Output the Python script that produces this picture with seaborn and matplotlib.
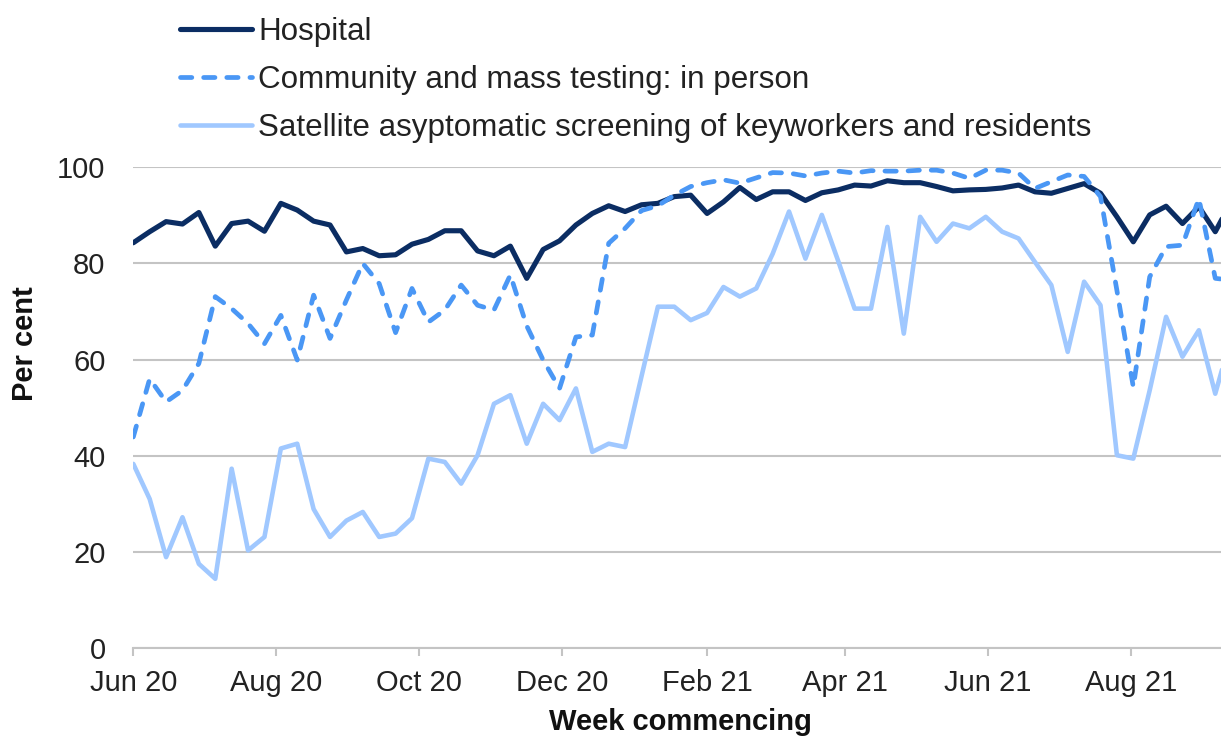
import pandas as pd
import numpy as np
import matplotlib.pyplot as plt
import matplotlib.dates as mdates
import seaborn as sns

# weekly data, week commencing 1 Jun 2020
weeks = pd.date_range('2020-06-01', periods=68, freq='7D')

hospital = [84.3, 86.6, 88.7, 88.2, 90.6, 83.6, 88.3, 88.8, 86.7, 92.5,
            91.1, 88.8, 88.0, 82.4, 83.1, 81.6, 81.8, 84.0, 85.0, 86.8,
            86.8, 82.6, 81.6, 83.6, 76.9, 82.9, 84.7, 88.0, 90.4, 92.0,
            90.8, 92.2, 92.5, 93.9, 94.2, 90.4, 92.8, 95.8, 93.3, 94.9,
            94.9, 93.1, 94.7, 95.3, 96.3, 96.1, 97.2, 96.8, 96.8, 96.0,
            95.1, 95.3, 95.4, 95.7, 96.3, 94.9, 94.6, 95.6, 96.6, 94.6,
            89.7, 84.5, 90.1, 91.9, 88.3, 91.8, 86.6, 93.0]

community = [43.9, 56.0, 51.2, 53.6, 59.2, 73.1, 70.6, 67.5, 63.3, 69.2,
             59.9, 73.4, 64.4, 72.4, 80.0, 75.8, 65.6, 74.8, 67.8, 70.3,
             75.5, 71.3, 70.3, 77.6, 67.0, 59.9, 54.0, 64.7, 65.1, 84.2,
             87.3, 91.0, 92.0, 94.2, 96.0, 96.8, 97.4, 96.7, 97.8, 98.9,
             98.8, 98.2, 98.8, 99.2, 98.8, 99.3, 99.2, 99.2, 99.4, 99.4,
             98.8, 97.7, 99.4, 99.4, 98.8, 95.6, 97.0, 98.4, 98.1, 93.9,
             74.4, 54.3, 77.2, 83.5, 83.8, 93.5, 76.9, 76.5]

satellite = [38.3, 31.0, 18.9, 27.2, 17.5, 14.4, 37.3, 20.3, 23.1, 41.5,
             42.5, 28.9, 23.1, 26.5, 28.3, 23.1, 23.8, 27.0, 39.4, 38.7,
             34.2, 40.1, 50.8, 52.6, 42.5, 50.8, 47.4, 54.0, 40.8, 42.5,
             41.8, 56.5, 71.0, 71.0, 68.2, 69.7, 75.1, 73.1, 74.8, 82.0,
             90.8, 81.0, 90.1, 80.5, 70.6, 70.6, 87.6, 65.4, 89.7, 84.5,
             88.3, 87.3, 89.7, 86.6, 85.2, 80.3, 75.5, 61.6, 76.2, 71.3,
             40.1, 39.4, 53.6, 68.9, 60.6, 66.1, 52.9, 65.0]

labels = ['Hospital',
          'Community and mass testing: in person',
          'Satellite asyptomatic screening of keyworkers and residents']
colours = ['#0b2d63', '#4a97f5', '#a0c8ff']

sns.set_theme(style='white')
plt.rcParams['font.family'] = ['Liberation Sans', 'DejaVu Sans']

W, H = 1221, 738
fig = plt.figure(figsize=(W / 100, H / 100), dpi=100)
ax = fig.add_axes([133.3 / W, 90 / H, 1 - 133.3 / W, 480.7 / H])

styles = [
    dict(linewidth=3.7),
    dict(linewidth=3.4, linestyle=(0, (2.4, 2.5)), dash_capstyle='round'),
    dict(linewidth=3.3),
]
for z, (vals, lab, col, kw) in enumerate(zip([hospital, community, satellite], labels, colours, styles)):
    sns.lineplot(x=weeks, y=vals, ax=ax, color=col, label=lab, errorbar=None,
                 zorder=3 + z, **kw)

ax.set_ylim(0, 100)
ax.set_yticks(range(0, 101, 20))
ax.set_xlim(weeks[0], weeks[0] + pd.Timedelta(days=66.35 * 7))
ax.xaxis.set_major_locator(mdates.MonthLocator(bymonth=[2, 4, 6, 8, 10, 12]))
ax.xaxis.set_major_formatter(mdates.DateFormatter('%b %y'))

ax.grid(axis='y', color='#c4c4c4', linewidth=1.5)
ax.grid(axis='x', visible=False)
ax.set_axisbelow(True)
for s in ['left', 'right', 'top']:
    ax.spines[s].set_visible(False)
ax.spines['bottom'].set_color('#c4c4c4')
ax.spines['bottom'].set_linewidth(1.5)

ax.tick_params(axis='x', direction='out', length=6, width=1.5, color='#c4c4c4',
               labelsize=21, pad=9, labelcolor='#222222', bottom=True)
ax.tick_params(axis='y', length=0, labelsize=21, pad=20, labelcolor='#222222')

ax.set_xlabel('Week commencing', fontsize=21, weight='bold', color='#111111')
ax.xaxis.set_label_coords(0.5026, -0.124)
ax.set_ylabel('Per cent', fontsize=21, weight='bold', color='#111111')
ax.yaxis.set_label_coords(-0.0867, 0.633)

ax.legend(loc='upper left', bbox_to_anchor=(180 / W, 1 - 17 / H),
          bbox_transform=fig.transFigure, frameon=False, fontsize=22.6,
          handlelength=2.3, handletextpad=0.19, labelspacing=0.57,
          borderpad=0, borderaxespad=0, labelcolor='#222222')

fig.savefig('out.png', dpi=100)
